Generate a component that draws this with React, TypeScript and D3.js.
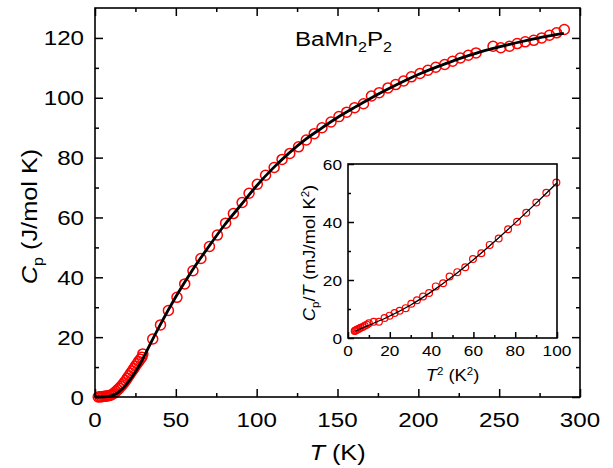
import React, { useEffect, useRef } from 'react';
import * as d3 from 'd3';

// main panel: Cp vs T
const T_LOW = [2, 3, 4, 5, 6, 7, 8, 9, 10, 11, 12, 13, 14, 15, 16, 17, 18, 19, 20, 21, 22, 23, 24, 25, 26, 27, 28, 29];
const CP_LOW = [0.02, 0.05, 0.1, 0.15, 0.22, 0.3, 0.4, 0.5, 0.7, 1.0, 1.4, 1.9, 2.4, 2.9, 3.5, 4.1, 4.8, 5.5, 6.3, 7.1, 7.9, 8.7, 9.5, 10.3, 11.1, 11.9, 12.6, 13.3];
const T_MAIN = [29.6, 35.7, 40.5, 45.4, 50.7, 55.5, 60.6, 65.5, 70.8, 75.7, 80.8, 85.6, 91, 95.3, 100.4, 105.5, 110.8, 115.7, 120.5, 125.9, 130.7, 135.6, 140.4, 146, 150.9, 155.7, 160.6, 166.1, 171, 175.8, 181.2, 186, 190.9, 195.7, 201, 205.9, 210.8, 216.3, 221.2, 226, 230.9, 235.7, 246.2, 251, 256.4, 261.2, 266.1, 271.4, 276.3, 281.1, 285.5, 290.3];
const CP_MAIN = [14.4, 19.4, 24.1, 28.9, 33.3, 37.8, 42.2, 46.3, 50.3, 54.1, 58.1, 61.3, 65, 68.1, 71.1, 74.1, 76.7, 79.4, 81.4, 83.6, 85.9, 88, 90, 91.9, 93.7, 95.2, 96.7, 98, 100.6, 101.7, 103.3, 104.4, 105.6, 107, 108.1, 109.2, 110.2, 111.1, 112.2, 113.3, 114.2, 115, 117.2, 116.7, 117.2, 118.1, 118.7, 119.2, 120, 120.9, 121.7, 122.8];
const FIT_T = [0, 5, 10, 12, 14, 16, 18, 20, 22, 24, 26, 28, 30, 35, 40, 50, 60, 70, 80, 90, 100, 110, 120, 130, 140, 150, 160, 170, 180, 190, 200, 210, 220, 230, 240, 250, 260, 270, 280, 290];
const FIT_CP = [0, 0.05, 0.4, 0.8, 1.4, 2.3, 3.3, 4.6, 6.0, 7.6, 9.3, 11.1, 13.2, 18.6, 23.8, 33.5, 42.2, 50, 57.4, 64, 70.6, 76.4, 81.5, 86, 89.8, 93.4, 96.6, 99.7, 102.6, 105.3, 107.8, 110, 112, 113.9, 115.6, 117, 118.3, 119.5, 120.6, 121.5];
const X_MAJOR = [0, 50, 100, 150, 200, 250, 300];
const X_MINOR = [25, 75, 125, 175, 225, 275];
const Y_MAJOR = [0, 20, 40, 60, 80, 100, 120];
const Y_MINOR = [10, 30, 50, 70, 90, 110];

// inset: Cp/T vs T^2
const IN_T2 = [3.2, 3.6, 4.1, 4.6, 5.3, 6, 7, 8, 9, 10, 12.3, 14.8, 17.5, 19.9, 22.3, 24.7, 27.6, 30.3, 33, 35.9, 38.8, 42, 45.5, 48.6, 52.3, 56.1, 59.8, 63.8, 67.8, 72.1, 76.6, 80.9, 85.3, 90.1, 94.9, 99.7];
const IN_CPT = [2.4, 2.6, 2.8, 3.0, 3.2, 3.5, 3.8, 4.2, 4.6, 5.1, 5.6, 5.6, 6.9, 7.7, 8.6, 9.4, 10.3, 11.8, 13, 14.3, 15.5, 17.8, 18.9, 21.2, 22.7, 24.4, 27.2, 29.2, 32.1, 34.3, 37.5, 40.1, 43.2, 46.7, 50.1, 53.6];
const IN_FIT_T2 = [3.5, 10, 20, 30, 40, 50, 60, 70, 80, 90, 100];
const IN_FIT_CPT = [2.4, 4.4, 7.6, 11.4, 16, 21.2, 27, 33.2, 39.7, 46.5, 53.5];
const IX_MAJOR = [0, 20, 40, 60, 80, 100];
const IX_MINOR = [10, 30, 50, 70, 90];
const IY_MAJOR = [0, 20, 40, 60];
const IY_MINOR = [10, 30, 50];

const FONT = 'Liberation Sans, Arial, sans-serif';
const SX = 1.15;

const App = () => {
  const svgRef = useRef(null);

  useEffect(() => {
    const svg = d3.select(svgRef.current);
    svg.selectAll('*').remove();

    const x = d3.scaleLinear().domain([0, 300]).range([95, 580]);
    const y = d3.scaleLinear().domain([0, 130]).range([397, 8]);
    const ix = d3.scaleLinear().domain([0, 100]).range([348, 557]);
    const iy = d3.scaleLinear().domain([0, 60]).range([338, 164]);

    const label = (g, px, py, txt, size, anchor) =>
      g.append('text')
        .attr('transform', `translate(${px},${py}) scale(${SX},1)`)
        .attr('text-anchor', anchor)
        .style('font-family', FONT)
        .style('font-size', size + 'px')
        .text(txt);

    // ticks on the four sides, pointing inward
    const ticks = (g, xs, ys, xMaj, xMin, yMaj, yMin, big, small, sides) => {
      const [x0, x1] = xs.range();
      const [y0, y1] = ys.range();
      const add = (axis, tr) => {
        g.append('g')
          .attr('transform', tr)
          .call(axis)
          .call(a => a.select('.domain').remove())
          .call(a => a.selectAll('line').attr('stroke', '#000').attr('stroke-width', 1.5));
      };
      [[xMaj, big], [xMin, small]].forEach(([v, s]) => {
        add(d3.axisBottom(xs).tickValues(v).tickSize(-s).tickFormat(() => ''), `translate(0,${y0})`);
        if (sides === 4) add(d3.axisTop(xs).tickValues(v).tickSize(-s).tickFormat(() => ''), `translate(0,${y1})`);
      });
      [[yMaj, big], [yMin, small]].forEach(([v, s]) => {
        add(d3.axisLeft(ys).tickValues(v).tickSize(-s).tickFormat(() => ''), `translate(${x0},0)`);
        if (sides === 4) add(d3.axisRight(ys).tickValues(v).tickSize(-s).tickFormat(() => ''), `translate(${x1},0)`);
      });
      g.append('rect')
        .attr('x', x0).attr('y', y1)
        .attr('width', x1 - x0).attr('height', y0 - y1)
        .attr('fill', 'none').attr('stroke', '#000').attr('stroke-width', 1.6);
    };

    // ---- main panel ----
    const main = svg.append('g');
    const lowPts = T_LOW.map((t, i) => [t, CP_LOW[i]]);
    const mainPts = T_MAIN.map((t, i) => [t, CP_MAIN[i]]);
    main.append('g')
      .selectAll('circle')
      .data(lowPts.concat(mainPts))
      .join('circle')
      .attr('cx', d => x(d[0]))
      .attr('cy', d => y(d[1]))
      .attr('r', 5)
      .attr('fill', 'none')
      .attr('stroke', '#ff0000')
      .attr('stroke-width', 1.5);

    const fitLine = d3.line().x(d => x(d[0])).y(d => y(d[1])).curve(d3.curveMonotoneX);
    main.append('path')
      .datum(FIT_T.map((t, i) => [t, FIT_CP[i]]))
      .attr('fill', 'none')
      .attr('stroke', '#000')
      .attr('stroke-width', 2.8)
      .attr('d', fitLine);

    ticks(main, x, y, X_MAJOR, X_MINOR, Y_MAJOR, Y_MINOR, 8, 4, 4);

    X_MAJOR.forEach(v => label(main, x(v), 427, String(v), 21, 'middle'));
    Y_MAJOR.forEach(v => label(main, 84, y(v) + 7.5, String(v), 21, 'end'));

    // x title
    const xt = main.append('text')
      .attr('transform', `translate(${x(150)},460) scale(${SX},1)`)
      .attr('text-anchor', 'middle')
      .style('font-family', FONT)
      .style('font-size', '22px');
    xt.append('tspan').style('font-style', 'italic').text('T');
    xt.append('tspan').text(' (K)');

    // y title
    const yt = main.append('text')
      .attr('transform', `translate(37,${y(65) + 14}) rotate(-90) scale(${SX},1)`)
      .attr('text-anchor', 'middle')
      .style('font-family', FONT)
      .style('font-size', '22px');
    yt.append('tspan').style('font-style', 'italic').text('C');
    yt.append('tspan').attr('dy', 6).style('font-size', '14px').text('p');
    yt.append('tspan').attr('dy', -6).text(' (J/mol K)');

    // compound name
    const nm = main.append('text')
      .attr('transform', `translate(295,46) scale(${SX},1)`)
      .style('font-family', FONT)
      .style('font-size', '21px');
    nm.append('tspan').text('BaMn');
    nm.append('tspan').attr('dy', 6).style('font-size', '14px').text('2');
    nm.append('tspan').attr('dy', -6).text('P');
    nm.append('tspan').attr('dy', 6).style('font-size', '14px').text('2');

    // ---- inset ----
    const ins = svg.append('g');
    ins.append('rect')
      .attr('x', 348).attr('y', 164).attr('width', 209).attr('height', 174)
      .attr('fill', '#fff');
    ins.append('g')
      .selectAll('circle')
      .data(IN_T2.map((t, i) => [t, IN_CPT[i]]))
      .join('circle')
      .attr('cx', d => ix(d[0]))
      .attr('cy', d => iy(d[1]))
      .attr('r', 3.4)
      .attr('fill', 'none')
      .attr('stroke', '#ff0000')
      .attr('stroke-width', 1.2);
    const inLine = d3.line().x(d => ix(d[0])).y(d => iy(d[1])).curve(d3.curveMonotoneX);
    ins.append('path')
      .datum(IN_FIT_T2.map((t, i) => [t, IN_FIT_CPT[i]]))
      .attr('fill', 'none')
      .attr('stroke', '#000')
      .attr('stroke-width', 1.3)
      .attr('d', inLine);

    ticks(ins, ix, iy, IX_MAJOR, IX_MINOR, IY_MAJOR, IY_MINOR, 6, 3, 2);

    IX_MAJOR.forEach(v => label(ins, ix(v), 356, String(v), 15, 'middle'));
    IY_MAJOR.forEach(v => label(ins, 342, iy(v) + 5.5, String(v), 15, 'end'));

    const ixt = ins.append('text')
      .attr('transform', `translate(${ix(50)},381) scale(${SX},1)`)
      .attr('text-anchor', 'middle')
      .style('font-family', FONT)
      .style('font-size', '16px');
    ixt.append('tspan').style('font-style', 'italic').text('T');
    ixt.append('tspan').attr('dy', -6).style('font-size', '10px').text('2');
    ixt.append('tspan').attr('dy', 6).text(' (K');
    ixt.append('tspan').attr('dy', -6).style('font-size', '10px').text('2');
    ixt.append('tspan').attr('dy', 6).text(')');

    const iyt = ins.append('text')
      .attr('transform', `translate(315,${iy(30) + 2}) rotate(-90) scale(${SX},1)`)
      .attr('text-anchor', 'middle')
      .style('font-family', FONT)
      .style('font-size', '16px');
    iyt.append('tspan').style('font-style', 'italic').text('C');
    iyt.append('tspan').attr('dy', 4).style('font-size', '10px').text('p');
    iyt.append('tspan').attr('dy', -4).text('/');
    iyt.append('tspan').style('font-style', 'italic').text('T');
    iyt.append('tspan').text(' (mJ/mol K');
    iyt.append('tspan').attr('dy', -6).style('font-size', '10px').text('2');
    iyt.append('tspan').attr('dy', 6).text(')');
  }, []);

  return (
    <svg
      ref={svgRef}
      width={613}
      height={468}
      style={{ position: 'absolute', left: 0, top: 0, background: '#fff' }}
    />
  );
};

export default App;
